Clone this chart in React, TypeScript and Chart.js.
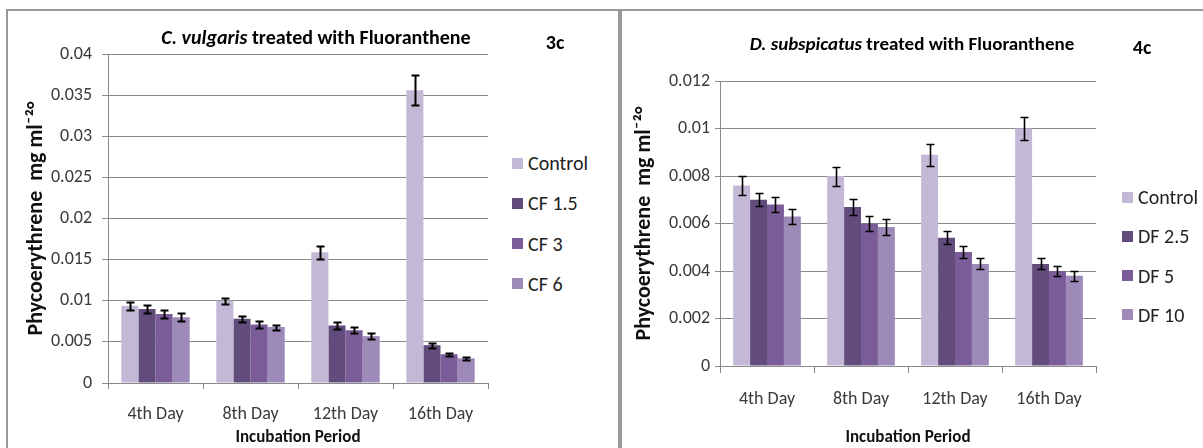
import React, { useEffect, useRef } from "react";
import { Chart, registerables } from "chart.js";
Chart.register(...registerables);

const FONT = "Carlito, Calibri, Lato, sans-serif";

const categories = ["4th Day", "8th Day", "12th Day", "16th Day"];

// Left chart (3c)
const leftSeriesLabels = ["Control", "CF 1.5", "CF 3", "CF 6"];
const leftControl = [0.0094, 0.0100, 0.0159, 0.0356];
const leftCF15 = [0.0090, 0.0078, 0.0070, 0.0046];
const leftCF3 = [0.0084, 0.0071, 0.0064, 0.0035];
const leftCF6 = [0.0080, 0.0068, 0.0057, 0.0030];
const leftControlErr = [0.00048, 0.00038, 0.0008, 0.0018];
const leftCF15Err = [0.00045, 0.0004, 0.00043, 0.0003];
const leftCF3Err = [0.00045, 0.0004, 0.00035, 0.0002];
const leftCF6Err = [0.00045, 0.0003, 0.00035, 0.00015];

// Right chart (4c)
const rightSeriesLabels = ["Control", "DF 2.5", "DF 5", "DF 10"];
const rightControl = [0.0076, 0.0080, 0.0089, 0.0100];
const rightDF25 = [0.0070, 0.0067, 0.0054, 0.0043];
const rightDF5 = [0.0068, 0.0060, 0.0048, 0.0040];
const rightDF10 = [0.0063, 0.00585, 0.0043, 0.0038];
const rightControlErr = [0.00038, 0.0004, 0.00046, 0.0005];
const rightDF25Err = [0.00028, 0.00034, 0.00028, 0.00023];
const rightDF5Err = [0.00033, 0.0003, 0.00025, 0.00023];
const rightDF10Err = [0.0003, 0.00035, 0.00023, 0.0002];

const seriesColors = ["#c3b8d5", "#624c7c", "#7a5c98", "#9d8ab8"];
const GRID = "#8a8a8a";

const errorBarPlugin = {
  id: "errorBars",
  afterDatasetsDraw(chart: any, _args: any, opts: any) {
    const ctx = chart.ctx;
    const y = chart.scales.y;
    ctx.save();
    ctx.strokeStyle = "#000";
    ctx.lineWidth = opts.lineWidth || 1.5;
    const half = opts.capHalf || 4;
    chart.data.datasets.forEach((ds: any, i: number) => {
      const meta = chart.getDatasetMeta(i);
      meta.data.forEach((bar: any, j: number) => {
        const v = ds.data[j];
        const e = ds.errors[j];
        const yt = Math.round(y.getPixelForValue(v + e)) + 0.5;
        const yb = Math.round(y.getPixelForValue(v - e)) + 0.5;
        const x = Math.round(bar.x) + 0.5;
        ctx.beginPath();
        ctx.moveTo(x, yt);
        ctx.lineTo(x, yb);
        ctx.moveTo(x - half, yt);
        ctx.lineTo(x + half, yt);
        ctx.moveTo(x - half, yb);
        ctx.lineTo(x + half, yb);
        ctx.stroke();
      });
    });
    ctx.restore();
  },
};

type PanelProps = {
  left: number;
  top: number;
  width: number;
  height: number;
  labels: string[];
  values: number[][];
  errors: number[][];
  yMax: number;
  yStep: number;
  padding: { left: number; right: number; top: number; bottom: number };
  yWidth: number;
  xHeight: number;
  yTickPad: number;
  yTickLen: number;
  xTickPad: number;
  xTickLen: number;
  errWidth: number;
};

function BarPanel(p: PanelProps) {
  const ref = useRef<HTMLCanvasElement>(null);
  useEffect(() => {
    if (!ref.current) return;
    const chart = new Chart(ref.current, {
      type: "bar",
      data: {
        labels: categories,
        datasets: p.labels.map((l, i) => ({
          label: l,
          data: p.values[i],
          errors: p.errors[i],
          backgroundColor: seriesColors[i],
          borderWidth: 0,
          categoryPercentage: 0.72,
          barPercentage: 1.0,
        })) as any,
      },
      options: {
        animation: false,
        responsive: false,
        maintainAspectRatio: false,
        layout: { padding: p.padding },
        plugins: {
          legend: { display: false },
          tooltip: { enabled: false },
          errorBars: { lineWidth: p.errWidth, capHalf: 4 },
        } as any,
        scales: {
          x: {
            grid: {
              drawOnChartArea: false,
              drawTicks: true,
              tickLength: p.xTickLen,
              color: GRID,
            },
            border: { display: true, color: GRID, width: 1 },
            ticks: {
              color: "#3a3a3a",
              padding: p.xTickPad,
              font: { family: FONT, size: 18 },
            },
            title: {
              display: true,
              text: "Incubation Period",
              color: "#111",
              font: { family: FONT, size: 17, weight: "bold" },
              padding: { top: 0, bottom: 0 },
            },
            afterFit(scale: any) {
              scale.height = p.xHeight;
            },
          },
          y: {
            min: 0,
            max: p.yMax,
            grid: {
              color: GRID,
              tickLength: p.yTickLen,
              drawTicks: true,
            },
            border: { display: true, color: GRID, width: 1 },
            ticks: {
              stepSize: p.yStep,
              color: "#3a3a3a",
              padding: p.yTickPad,
              font: { family: FONT, size: 18 },
              callback: (v: any) => String(Number(Number(v).toFixed(4))),
            },
            title: {
              display: true,
              text: "Phycoerythrene  mg ml\u207B\u00B2\u00B0",
              color: "#111",
              font: { family: FONT, size: 22, weight: "bold" },
              padding: { top: 0, bottom: 0 },
            },
            afterFit(scale: any) {
              scale.width = p.yWidth;
            },
          },
        },
      },
      plugins: [errorBarPlugin],
    });
    return () => chart.destroy();
  }, []);
  return (
    <canvas
      ref={ref}
      width={p.width}
      height={p.height}
      style={{
        position: "absolute",
        left: p.left,
        top: p.top,
        width: p.width,
        height: p.height,
      }}
    />
  );
}

function Legend(props: {
  labels: string[];
  left: number;
  firstCenter: number;
  spacing: number;
  box: number;
}) {
  return (
    <>
      {props.labels.map((l, i) => (
        <div
          key={l}
          style={{
            position: "absolute",
            left: props.left,
            top: props.firstCenter + i * props.spacing - 14,
            height: 28,
            display: "flex",
            alignItems: "center",
            whiteSpace: "nowrap",
            fontFamily: FONT,
            fontSize: 20,
            color: "#222",
          }}
        >
          <span
            style={{
              display: "inline-block",
              width: props.box,
              height: props.box,
              background: seriesColors[i],
              marginRight: 5,
            }}
          />
          {l}
        </div>
      ))}
    </>
  );
}

function Centered(props: { x: number; y: number; size: number; children: any }) {
  return (
    <div
      style={{
        position: "absolute",
        left: props.x,
        top: props.y,
        transform: "translate(-50%, -50%)",
        whiteSpace: "nowrap",
        fontFamily: FONT,
        fontWeight: "bold",
        fontSize: props.size,
        color: "#000",
      }}
    >
      {props.children}
    </div>
  );
}

export default function App() {
  return (
    <div
      style={{
        position: "fixed",
        left: 0,
        top: 0,
        width: 1203,
        height: 448,
        overflow: "hidden",
        background: "#fff",
      }}
    >
      {/* panel frames */}
      <div style={{ position: "absolute", left: 6, top: 9, width: 1197, height: 2, background: "#999" }} />
      <div style={{ position: "absolute", left: 6, top: 9, width: 2, height: 440, background: "#999" }} />
      <div style={{ position: "absolute", left: 618, top: 9, width: 4, height: 440, background: "#999" }} />

      <BarPanel
        left={8}
        top={20}
        width={500}
        height={428}
        labels={leftSeriesLabels}
        values={[leftControl, leftCF15, leftCF3, leftCF6]}
        errors={[leftControlErr, leftCF15Err, leftCF3Err, leftCF6Err]}
        yMax={0.04}
        yStep={0.005}
        padding={{ left: 15, right: 20, top: 34, bottom: 0 }}
        yWidth={85}
        xHeight={65}
        yTickPad={10}
        yTickLen={6}
        xTickPad={15}
        xTickLen={6}
        errWidth={2}
      />
      <Centered x={316} y={37} size={20}>
        <i>C. vulgaris</i> treated with Fluoranthene
      </Centered>
      <Centered x={555} y={42} size={20}>
        3c
      </Centered>
      <Legend labels={leftSeriesLabels} left={512} firstCenter={163} spacing={40.3} box={11} />

      <BarPanel
        left={624}
        top={20}
        width={579}
        height={428}
        labels={rightSeriesLabels}
        values={[rightControl, rightDF25, rightDF5, rightDF10]}
        errors={[rightControlErr, rightDF25Err, rightDF5Err, rightDF10Err]}
        yMax={0.012}
        yStep={0.002}
        padding={{ left: 7, right: 107, top: 61, bottom: 0 }}
        yWidth={89}
        xHeight={82}
        yTickPad={5}
        yTickLen={5}
        xTickPad={16}
        xTickLen={7}
        errWidth={1.6}
      />
      <Centered x={912} y={43} size={19}>
        <i>D. subspicatus</i> treated with Fluoranthene
      </Centered>
      <Centered x={1142} y={47} size={20}>
        4c
      </Centered>
      <Legend labels={rightSeriesLabels} left={1122} firstCenter={197} spacing={39.3} box={11} />
    </div>
  );
}
